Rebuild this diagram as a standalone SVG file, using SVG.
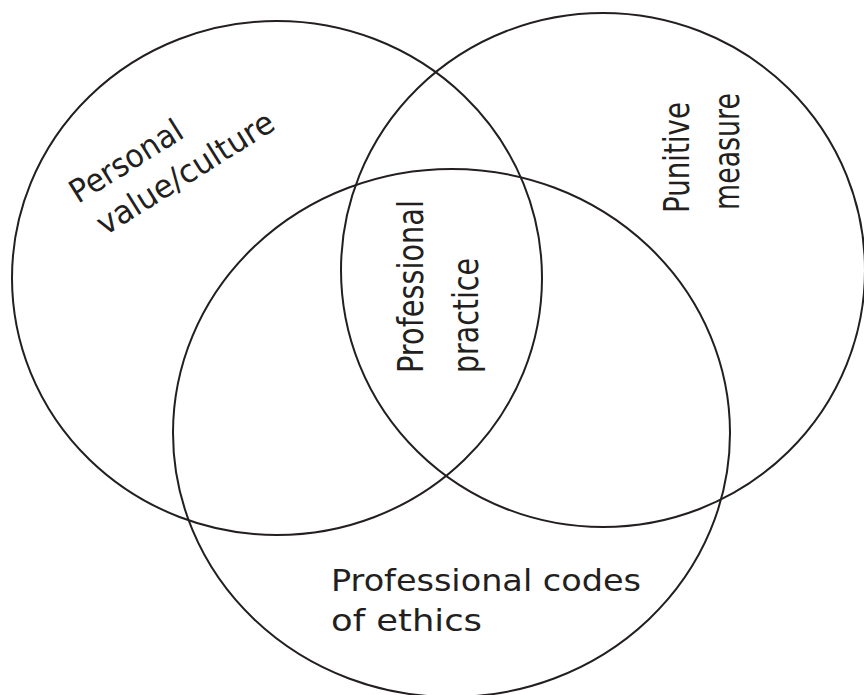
<svg xmlns="http://www.w3.org/2000/svg" width="864" height="695" viewBox="0 0 864 695">
<style>
.c{fill:none;stroke:#231f20;stroke-width:2}
.t{font-family:"DejaVu Sans",sans-serif;fill:#231f20}
</style>
<rect width="864" height="695" fill="#fff"/>
<g id="personal">
<ellipse class="c" cx="277" cy="278" rx="265" ry="257"/>
<text class="t" font-size="32" transform="translate(78,204) rotate(-32)" textLength="127" lengthAdjust="spacingAndGlyphs">Personal</text>
<text class="t" font-size="32" transform="translate(105,236) rotate(-32)" textLength="203" lengthAdjust="spacingAndGlyphs">value/culture</text>
</g>
<g id="punitive">
<ellipse class="c" cx="603" cy="270" rx="262" ry="257"/>
<text class="t" font-size="36" transform="translate(689,213) rotate(-90)" textLength="111" lengthAdjust="spacingAndGlyphs">Punitive</text>
<text class="t" font-size="36" transform="translate(739,210) rotate(-90)" textLength="117" lengthAdjust="spacingAndGlyphs">measure</text>
</g>
<g id="codes">
<ellipse class="c" cx="451.5" cy="433" rx="278.5" ry="264"/>
<text class="t" font-size="31" x="331" y="591" textLength="310" lengthAdjust="spacingAndGlyphs">Professional codes</text>
<text class="t" font-size="31" x="331" y="631" textLength="151" lengthAdjust="spacingAndGlyphs">of ethics</text>
</g>
<g id="practice">
<text class="t" font-size="36" transform="translate(423,373) rotate(-90)" textLength="173" lengthAdjust="spacingAndGlyphs">Professional</text>
<text class="t" font-size="36" transform="translate(478,373) rotate(-90)" textLength="115" lengthAdjust="spacingAndGlyphs">practice</text>
</g>
<g id="connectors"></g>
</svg>
